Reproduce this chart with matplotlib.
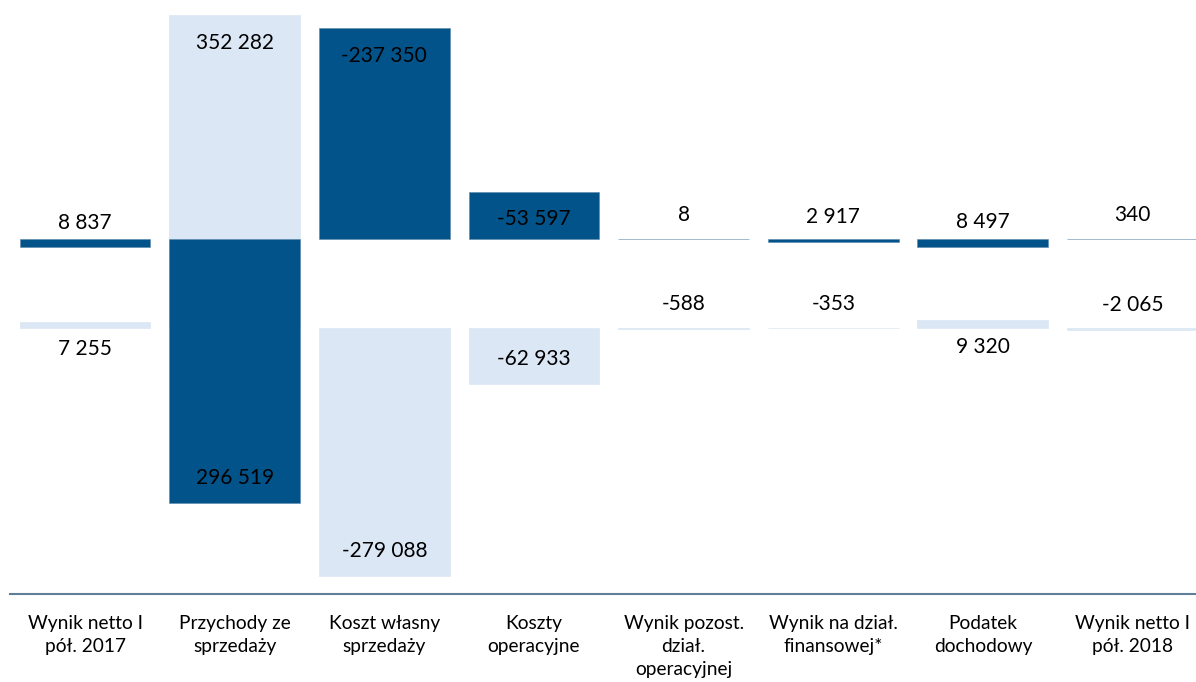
import matplotlib
matplotlib.use("Agg")
import matplotlib.pyplot as plt
import numpy as np

# ── Data ─────────────────────────────────────────────────────────────────────
categories = [
    "Wynik netto I\npół. 2017",
    "Przychody ze\nsprzedaży",
    "Koszt własny\nsprzedaży",
    "Koszty\noperacyjne",
    "Wynik pozost.\ndział.\noperacyjnej",
    "Wynik na dział.\nfinansowej*",
    "Podatek\ndochodowy",
    "Wynik netto I\npół. 2018",
]
dark_values = [8837, 296519, -237350, -53597, 8, 2917, 8497, 340]
light_values = [7255, 352282, -279088, -62933, -588, -353, 9320, -2065]

# ── Style ────────────────────────────────────────────────────────────────────
DARK = "#02538A"
LIGHT = "#DBE7F4"
AXIS = "#5F7F99"
DARK_BASE = 100000   # dark row sits above the light row, drawn downward
LABEL_PX = 26        # label centre distance from bar end, towards base

plt.rcParams["font.family"] = ["Lato", "DejaVu Sans"]


def fmt(v):
    return f"{v:,}".replace(",", " ")


fig = plt.figure(figsize=(11.96, 6.82), dpi=100)
ax = fig.add_axes([0.00853, 0.12845, 1.001, 0.8724])

x = np.arange(len(categories))
width = 0.875

light_h = np.array(light_values, dtype=float)
dark_h = -np.array(dark_values, dtype=float)

ax.bar(x, light_h, width=width, bottom=0, color=LIGHT,
       edgecolor=LIGHT, linewidth=0.5, zorder=2)
ax.bar(x, dark_h, width=width, bottom=DARK_BASE, color=DARK,
       edgecolor="#5C86AA", linewidth=0.4, zorder=3)

# labels: inside end, pushed towards the base
px2pt = 72 / fig.dpi
for xi, h, v in zip(x, light_h, light_values):
    toward = -1 if h > 0 else 1
    dy = (toward * LABEL_PX - 7.5) * px2pt
    ax.annotate(fmt(v), (xi, h), xytext=(0, dy), textcoords="offset points",
                ha="center", va="baseline", fontsize=15, color="black",
                zorder=5)
for xi, h, v in zip(x, dark_h, dark_values):
    toward = -1 if h > 0 else 1
    dy = (toward * LABEL_PX - 7.5) * px2pt
    ax.annotate(fmt(v), (xi, DARK_BASE + h), xytext=(0, dy),
                textcoords="offset points", ha="center", va="baseline",
                fontsize=15, color="black", zorder=5)

ax.set_xlim(-0.5, len(categories) - 0.5)
ax.set_ylim(-300000, 370000)
ax.set_xticks(x)
ax.set_xticklabels(categories, fontsize=13.8, linespacing=1.42)
ax.tick_params(axis="x", length=0, pad=15)
ax.set_yticks([])
for side in ["top", "left", "right"]:
    ax.spines[side].set_visible(False)
ax.spines["bottom"].set_color(AXIS)
ax.spines["bottom"].set_linewidth(1.5)
ax.patch.set_alpha(0)

fig.savefig("out.png", dpi=100)
